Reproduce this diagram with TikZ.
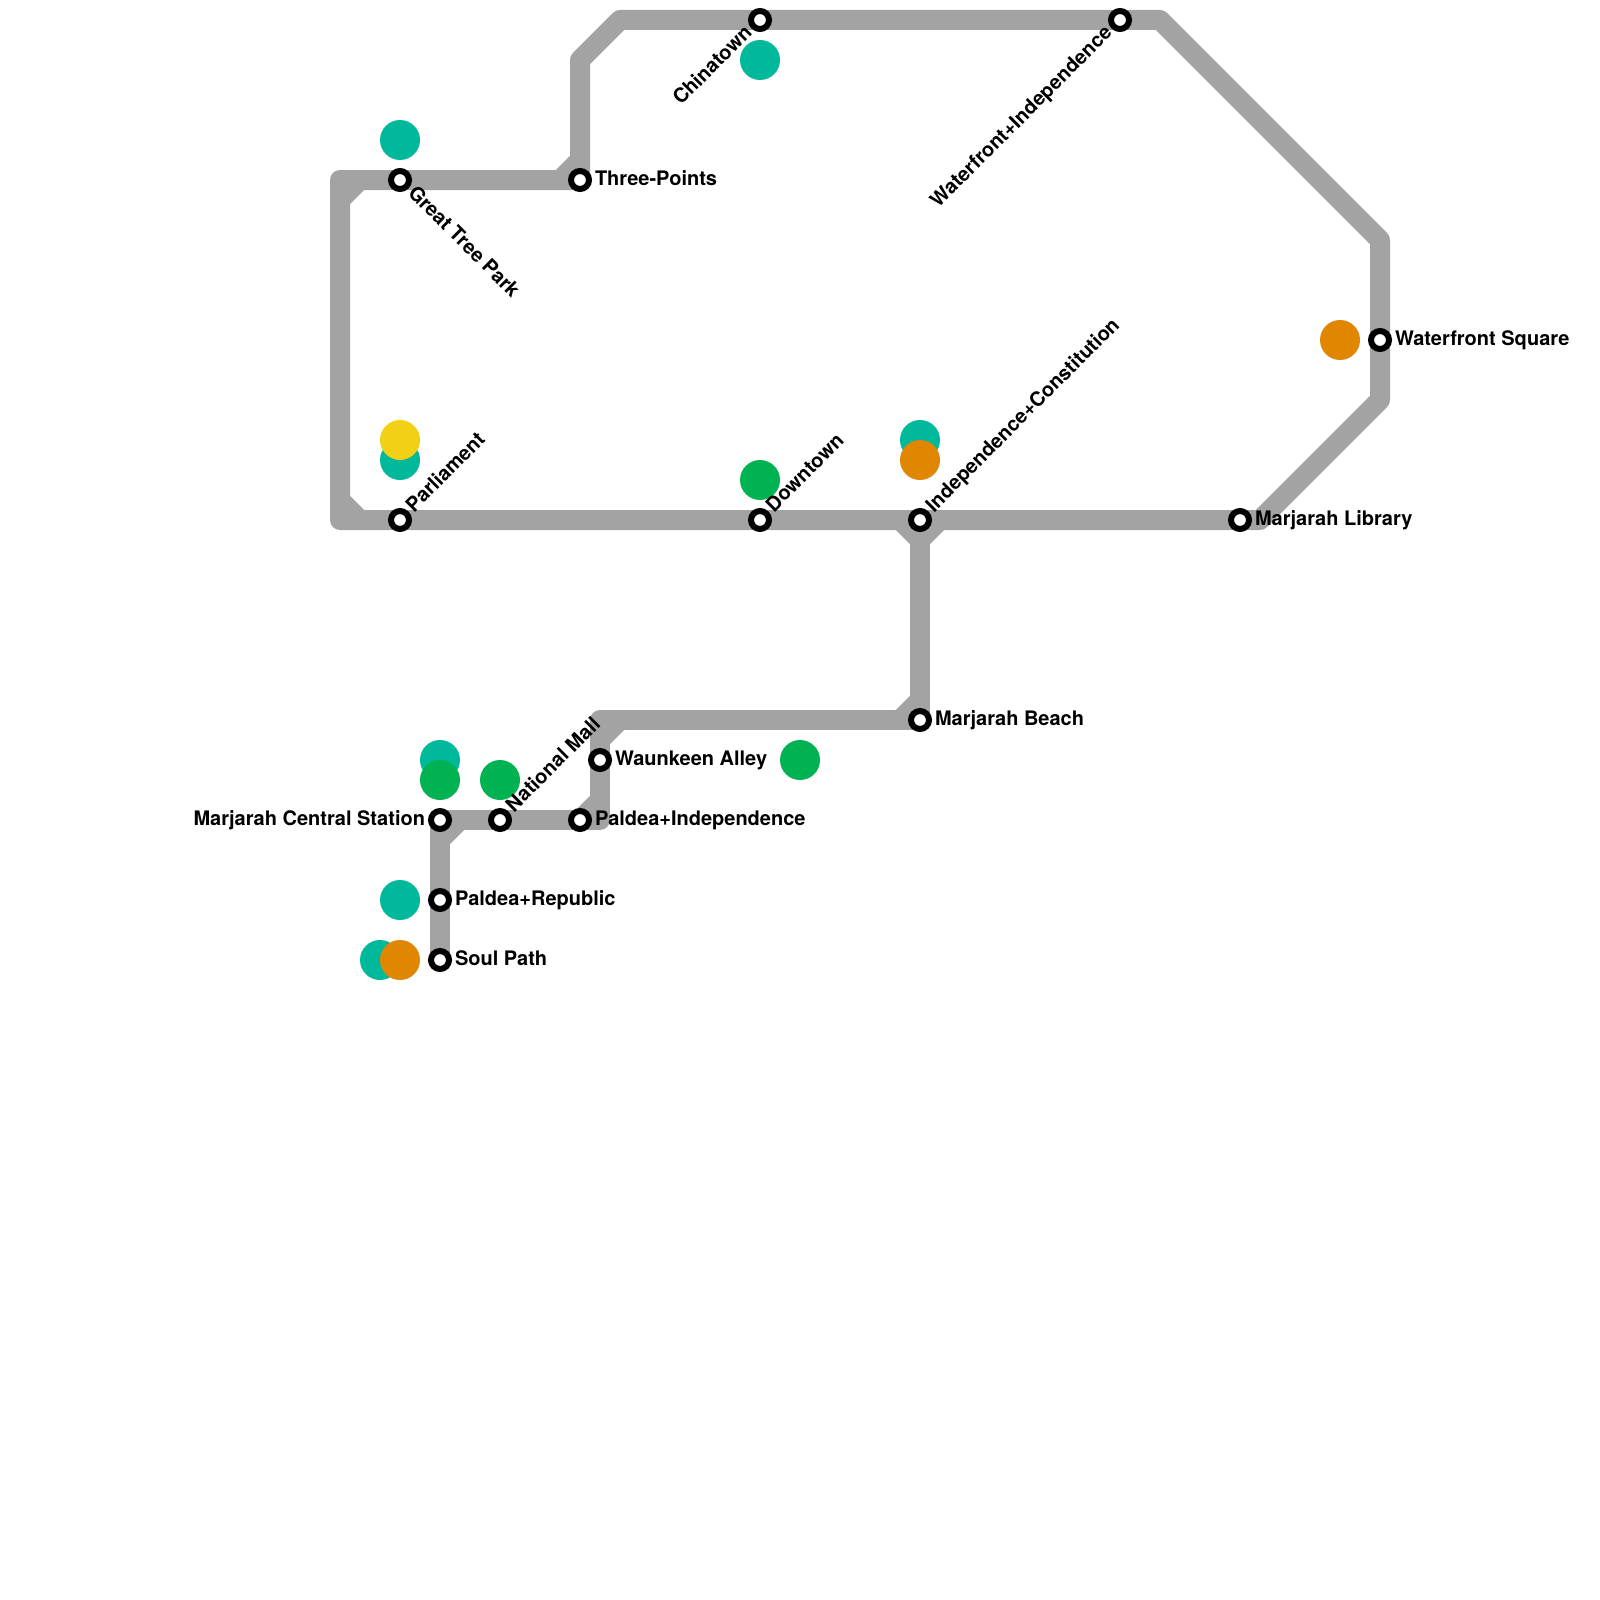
\documentclass[tikz,border=0pt]{standalone}
\usepackage{fontspec}
\setmainfont{TeX Gyre Heros}
\usetikzlibrary{backgrounds}
\definecolor{trackgrey}{HTML}{A3A3A3}
\definecolor{dotteal}{HTML}{00B89A}
\definecolor{dotgreen}{HTML}{00B251}
\definecolor{dotorange}{HTML}{E08600}
\definecolor{dotyellow}{HTML}{F2D016}
\tikzset{
  x=1pt,y=-1pt,
  track/.style={draw=trackgrey,line width=20pt,line join=round,line cap=butt},
  stn/.style={circle,draw=black,fill=white,line width=6pt,inner sep=0pt,minimum size=18pt,outer sep=0pt},
  dot/.style={circle,inner sep=0pt,minimum size=40pt,outer sep=0pt},
  lbl/.style={inner sep=0pt,outer sep=0pt,font=\fontsize{20}{22}\selectfont\bfseries},
  lr/.style={lbl,anchor=base west},
  ll/.style={lbl,anchor=base east},
}
\begin{document}
\begin{tikzpicture}
\useasboundingbox (0,0) rectangle (1600,1600);
% way points
\coordinate (tl) at (340,180);
\coordinate (bl) at (340,520);
\coordinate (tla) at (340,200);
\coordinate (tlb) at (360,180);
\coordinate (bla) at (340,500);
\coordinate (blb) at (360,520);
\coordinate (tpa) at (580,160);
\coordinate (tpb) at (560,180);
\coordinate (t1) at (580,60);
\coordinate (t2) at (620,20);
\coordinate (t3) at (1160,20);
\coordinate (r1) at (1380,240);
\coordinate (r2) at (1380,400);
\coordinate (r3) at (1260,520);
\coordinate (ja) at (900,520);
\coordinate (jb) at (940,520);
\coordinate (jc) at (920,540);
\coordinate (mba) at (920,700);
\coordinate (mbb) at (900,720);
\coordinate (m1) at (600,720);
\coordinate (m2) at (600,820);
\coordinate (wa) at (600,740);
\coordinate (wb) at (620,720);
\coordinate (pa) at (600,800);
\coordinate (pb) at (580,820);
\coordinate (ca) at (440,840);
\coordinate (cb) at (460,820);
% stations
\node[stn] (gtp) at (400,180) {};
\node[stn] (tp) at (580,180) {};
\node[stn] (china) at (760,20) {};
\node[stn] (wi) at (1120,20) {};
\node[stn] (ws) at (1380,340) {};
\node[stn] (lib) at (1240,520) {};
\node[stn] (ic) at (920,520) {};
\node[stn] (down) at (760,520) {};
\node[stn] (parl) at (400,520) {};
\node[stn] (beach) at (920,720) {};
\node[stn] (wau) at (600,760) {};
\node[stn] (pi) at (580,820) {};
\node[stn] (nm) at (500,820) {};
\node[stn] (mcs) at (440,820) {};
\node[stn] (pr) at (440,900) {};
\node[stn] (soul) at (440,960) {};
\begin{scope}[on background layer]
\fill[white] (0,0) rectangle (1600,1600);
\draw[track] (tp.center) -- (tl) -- (bl) -- (r3) -- (r2) -- (r1) -- (t3) -- (t2) -- (t1) -- (tp.center);
\draw[track] (tla) -- (tlb);
\draw[track] (bla) -- (blb);
\draw[track] (tpa) -- (tpb);
\draw[track] (ja) -- (jc) -- (jb);
\draw[track] (ic.center) -- (beach.center) -- (m1) -- (m2) -- (mcs.center) -- (soul.center);
\draw[track] (mba) -- (mbb);
\draw[track] (wa) -- (wb);
\draw[track] (pa) -- (pb);
\draw[track] (ca) -- (cb);
\end{scope}
% dots
\node[dot,fill=dotteal] (d1) at (400,140) {};
\node[dot,fill=dotteal] (d2) at (760,60) {};
\node[dot,fill=dotteal] (d3) at (400,460) {};
\node[dot,fill=dotyellow] (d4) at (400,440) {};
\node[dot,fill=dotgreen] (d5) at (760,480) {};
\node[dot,fill=dotteal] (d6) at (920,440) {};
\node[dot,fill=dotorange] (d7) at (920,460) {};
\node[dot,fill=dotorange] (d8) at (1340,340) {};
\node[dot,fill=dotteal] (d9) at (440,760) {};
\node[dot,fill=dotgreen] (d10) at (440,780) {};
\node[dot,fill=dotgreen] (d11) at (500,780) {};
\node[dot,fill=dotgreen] (d12) at (800,760) {};
\node[dot,fill=dotteal] (d13) at (400,900) {};
\node[dot,fill=dotteal] (d14) at (380,960) {};
\node[dot,fill=dotorange] (d15) at (400,960) {};
% labels
\node[lr] (lgtp) at (407,194) [rotate=-45] {Great Tree Park};
\node[lr] (ltp) at (595,185) {Three-Points};
\node[ll] (lchina) at (753,34) [rotate=45] {Chinatown};
\node[ll] (lwi) at (1113,34) [rotate=45] {Waterfront+Independence};
\node[lr] (lws) at (1395,345) {Waterfront Square};
\node[lr] (llib) at (1255,525) {Marjarah Library};
\node[lr] (lic) at (934,513) [rotate=45] {Independence+Constitution};
\node[lr] (ldown) at (774,513) [rotate=45] {Downtown};
\node[lr] (lparl) at (414,513) [rotate=45] {Parliament};
\node[lr] (lbeach) at (935,725) {Marjarah Beach};
\node[lr] (lwau) at (615,765) {Waunkeen Alley};
\node[lr] (lpi) at (595,825) {Paldea+Independence};
\node[lr] (lnm) at (514,813) [rotate=45] {National Mall};
\node[ll] (lmcs) at (425,825) {Marjarah Central Station};
\node[lr] (lpr) at (455,905) {Paldea+Republic};
\node[lr] (lsoul) at (455,965) {Soul Path};
\end{tikzpicture}
\end{document}
